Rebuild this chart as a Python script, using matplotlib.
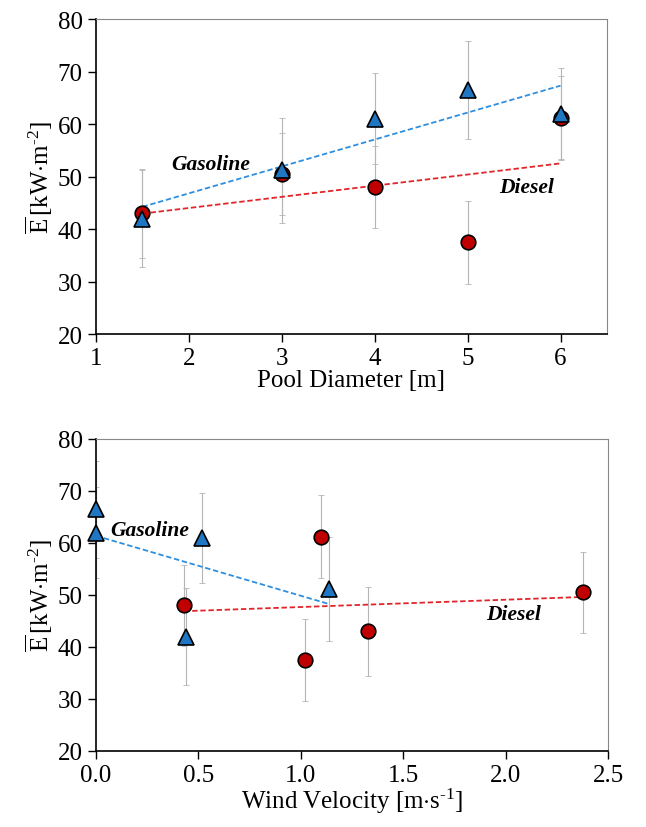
import numpy as np
import matplotlib.pyplot as plt

plt.rcParams['font.family'] = ['Liberation Serif', 'DejaVu Serif']
plt.rcParams['mathtext.fontset'] = 'custom'
plt.rcParams['mathtext.rm'] = 'Liberation Serif'
plt.rcParams['mathtext.it'] = 'Liberation Serif:italic'

# Pool diameter data
diam = [1.5, 3, 4, 5, 6]
gas_E = [42, 51.2, 61, 66.5, 62]
gas_err = [9.3, 10, 8.7, 9.3, 8.7]
dsl_E = [43, 50.5, 48, 37.5, 61.2]
dsl_err = [8.5, 7.8, 7.8, 7.9, 8.0]

# Wind velocity for the same tests
gas_wind = [0.44, 1.14, 0.52, 0.0, 0.0]
dsl_wind = [1.33, 2.38, 0.43, 1.02, 1.1]

red = '#c00000'
blue = '#1f77c4'
red_line = '#e0262b'
blue_line = '#2f8fdf'

fig = plt.figure(figsize=(6.46, 8.28), dpi=100)
ax1 = fig.add_axes([0.1486, 0.5954, 0.791, 0.3804])
ax2 = fig.add_axes([0.1486, 0.0918, 0.7926, 0.3768])


def draw(ax, xg, xd):
    ax.errorbar(xd, dsl_E, yerr=dsl_err, fmt='none', ecolor='#b5b5b5',
                elinewidth=0.8, capsize=2, capthick=0.6, zorder=1)
    ax.errorbar(xg, gas_E, yerr=gas_err, fmt='none', ecolor='#b5b5b5',
                elinewidth=0.8, capsize=2, capthick=0.6, zorder=1)
    for x, y, c in [(xd, dsl_E, red_line), (xg, gas_E, blue_line)]:
        k, b = np.polyfit(x, y, 1)
        xs = np.array([min(x), max(x)])
        ax.plot(xs, k * xs + b, '--', color=c, lw=1.3, dashes=(3, 1.5), zorder=2)
    ax.plot(xd, dsl_E, 'o', ms=10.5, mfc=red, mec='black', mew=1.2, zorder=3,
            clip_on=False)
    ax.plot(xg, gas_E, '^', ms=11, mfc=blue, mec='black', mew=1.2, zorder=4,
            clip_on=False)
    ax.set_ylim(20, 80)
    ax.set_yticks(range(20, 81, 10))
    ax.set_ylabel(r'$\overline{\mathrm{E}}\,$[kW$\cdot$m$^{\text{-2}}$]',
                  fontsize=18, labelpad=2)
    ax.tick_params(direction='out', length=6, width=1, labelsize=18)
    for s in ['top', 'right']:
        ax.spines[s].set_color('#888888')
    for s in ['left', 'bottom']:
        ax.spines[s].set_linewidth(1.2)
    ax.tick_params(top=False, right=False)


draw(ax1, diam, diam)
ax1.set_xlim(1, 6.5)
ax1.set_xticks([1, 2, 3, 4, 5, 6])
ax1.set_xlabel('Pool Diameter [m]', fontsize=18, labelpad=0)
ax1.text(2.23, 52.4, 'Gasoline', fontsize=15.5, fontweight='bold',
         style='italic', ha='center', va='center')
ax1.text(5.64, 48, 'Diesel', fontsize=15.5, fontweight='bold',
         style='italic', ha='center', va='center')

draw(ax2, gas_wind, dsl_wind)
ax2.set_xlim(0, 2.5)
ax2.set_xticks(np.arange(0, 2.51, 0.5))
ax2.xaxis.set_major_formatter(plt.FormatStrFormatter('%.1f'))
ax2.set_xlabel(r'Wind Velocity [m$\cdot$s$^{\text{-1}}$]', fontsize=18,
               labelpad=0)
ax2.text(0.26, 62.5, 'Gasoline', fontsize=15.5, fontweight='bold',
         style='italic', ha='center', va='center')
ax2.text(2.04, 46.3, 'Diesel', fontsize=15.5, fontweight='bold',
         style='italic', ha='center', va='center')

fig.savefig('out.png', dpi=100)
